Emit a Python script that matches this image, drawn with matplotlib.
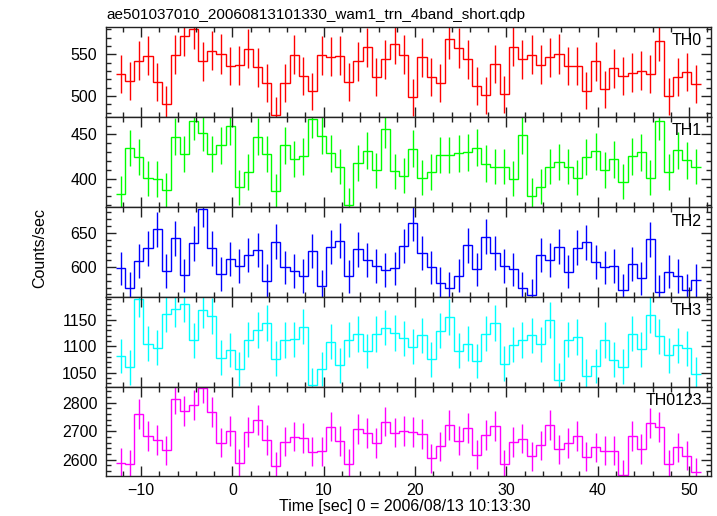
import numpy as np
import matplotlib
matplotlib.use("Agg")
import matplotlib.pyplot as plt
from matplotlib.ticker import MultipleLocator

plt.rcParams['font.family'] = ['Liberation Sans', 'DejaVu Sans']

# ---------------- data ----------------
time_start = -12.24   # centre of first 1-s bin
bin_width = 1.0

th0 = [526, 518.4, 542.4, 548, 516.4, 490, 549.6, 572, 580, 541.6, 554.4, 550.4, 536, 536.8,
       556.8, 534.4, 515.6, 476.8, 515.6, 549.6, 523.6, 505.6, 548.8, 547.2, 548, 516.8, 541.6,
       558.4, 522.4, 544, 562.4, 549.6, 498.4, 546.4, 523.2, 515.6, 568, 557.6, 544, 512, 500.8,
       538.4, 502, 559.2, 544, 549.6, 537.6, 546.4, 550.4, 536, 536, 506.4, 541.6, 508, 533.2,
       524, 528, 530.4, 526.4, 566, 499.6, 522.4, 528.8, 514.4]
th1 = [383, 434.5, 424.6, 400.4, 399.6, 386.7, 447.3, 427.6, 464.8, 451.9, 427.6, 437.9, 459.5,
       390.2, 407.2, 447.3, 427.6, 385.6, 437.9, 422.3, 425, 467, 448.5, 428.4, 413.6, 370,
       417.4, 431.4, 409.1, 456.4, 408, 403.4, 433.7, 401.1, 407.2, 426.5, 426.5, 428.4, 429.5,
       434.8, 417, 413.6, 413.6, 400, 448.9, 380.7, 390.5, 413.6, 419, 413.6, 401.1, 424.2,
       430.7, 409.9, 421.6, 396.6, 425, 429.5, 401.1, 465.5, 407.2, 431.8, 420.5, 413.6]
th2 = [598, 569, 608.7, 627.2, 654.9, 594.2, 641.7, 587.9, 634.5, 684.5, 627.2, 589.8, 611.2,
       601.5, 617.5, 624.3, 579.6, 636.9, 599.5, 594.2, 586.9, 623.8, 572.3, 629.1, 638.4,
       586.4, 625.7, 609.7, 601, 595.6, 598, 630.6, 663.6, 620.9, 599.5, 576.2, 569, 587.4,
       631.6, 596.6, 644.2, 620.9, 601.5, 596.6, 569, 559.2, 617, 609.7, 629.6, 593.2, 628.2,
       635.9, 607.3, 599.5, 601, 566.5, 604.4, 583.5, 640.3, 564.1, 593.2, 586.9, 566.5, 580.6]
th3 = [1081.6, 1060.1, 1189.3, 1105.1, 1097.5, 1161.4, 1170.9, 1181, 1111.4, 1169, 1158.2,
       1078.5, 1093, 1056.3, 1112.7, 1131, 1144.3, 1076.6, 1112, 1113.3, 1137.3, 1027.2,
       1057.6, 1108.9, 1063.9, 1112.7, 1123.4, 1091.1, 1123.4, 1135.4, 1125.3, 1115.2, 1098.7,
       1120.9, 1075.3, 1129.7, 1156.3, 1091.8, 1105.1, 1072.1, 1124, 1144.3, 1067.1, 1103.2,
       1112, 1120.9, 1103.8, 1150, 1035.4, 1112.7, 1117.7, 1043, 1062.7, 1112, 1074.7, 1061.4,
       1124, 1094.3, 1160.1, 1119, 1082.9, 1101.9, 1096.2, 1046.8]
th0123 = [2588.9, 2584.2, 2759.7, 2682.5, 2669.6, 2633.3, 2812.3, 2770.2, 2792.4, 2852.1, 2769,
          2660.2, 2701.2, 2587.7, 2696.5, 2738.6, 2668.4, 2577.2, 2663.7, 2681.3, 2675.4,
          2627.5, 2629.8, 2716.4, 2664.9, 2585.3, 2708.2, 2693, 2657.9, 2733.9, 2695.3, 2700,
          2696.5, 2690.6, 2605.2, 2647.4, 2722.2, 2667.2, 2710.5, 2616.9, 2686, 2717.6, 2584.2,
          2661.4, 2674.3, 2612.2, 2650.9, 2722.2, 2636.8, 2657.9, 2683.6, 2609.9, 2643.8, 2631,
          2631, 2547.9, 2682.5, 2638, 2728.1, 2715.2, 2584.2, 2643.8, 2613.4, 2556.1]

series = [th0, th1, th2, th3, th0123]
names = ["TH0", "TH1", "TH2", "TH3", "TH0123"]
colors = ["#ff0000", "#00ff00", "#0000ff", "#00ffff", "#ff00ff"]
ylims = [(474.8, 582.7), (367.4, 469.7), (556.7, 687.0), (1023.4, 1194.0), (2541.8, 2856.0)]
ymajor = [50, 50, 50, 50, 100]
yminor = [10, 10, 10, 10, 20]
xlim = (-13.8, 52.4)

title = "ae501037010_20060813101330_wam1_trn_4band_short.qdp"
xlabel = "Time [sec] 0 = 2006/08/13 10:13:30"
ylabel = "Counts/sec"

# ---------------- figure ----------------
W, H = 717, 516
fig = plt.figure(figsize=(W / 100, H / 100), dpi=100)
left_px, right_px = 106.3, 711.0
edges_px = [27.0, 117.0, 207.3, 296.7, 386.7, 476.3]

n = len(th0)
centers = time_start + bin_width * np.arange(n)
edges = np.concatenate([centers - bin_width / 2, [centers[-1] + bin_width / 2]])

axes = []
for k, (vals, name, col) in enumerate(zip(series, names, colors)):
    top, bot = edges_px[k], edges_px[k + 1]
    ax = fig.add_axes([left_px / W, 1 - bot / H, (right_px - left_px) / W, (bot - top) / H])
    vals = np.asarray(vals, dtype=float)
    err = np.sqrt(vals)
    ax.vlines(centers, vals - err, vals + err, colors=col, lw=1.0)
    ax.stairs(vals, edges, color=col, lw=1.0, baseline=None)
    ax.set_xlim(*xlim)
    ax.set_ylim(*ylims[k])
    ax.xaxis.set_major_locator(MultipleLocator(10))
    ax.xaxis.set_minor_locator(MultipleLocator(2))
    ax.yaxis.set_major_locator(MultipleLocator(ymajor[k]))
    ax.yaxis.set_minor_locator(MultipleLocator(yminor[k]))
    ax.tick_params(which='both', direction='in', top=True, right=True, colors='#222222',
                   labelcolor='black', labelsize=11.5)
    ax.tick_params(which='major', length=7, width=1)
    ax.tick_params(which='minor', length=3.5, width=1)
    ax.tick_params(axis='y', which='major', pad=6.5)
    ax.tick_params(axis='x', which='major', pad=4.5)
    for sp in ax.spines.values():
        sp.set_color('#222222')
        sp.set_linewidth(1.0)
    if k < 4:
        ax.tick_params(labelbottom=False)
    ax.text(0.985, 0.93, name, transform=ax.transAxes, ha='right', va='top', fontsize=11.5)
    axes.append(ax)

fig.text(left_px / W, 1 - 15 / H, title, ha='left', va='center', fontsize=11)
fig.text(405 / W, 1 - 507 / H, xlabel, ha='center', va='center', fontsize=11.5)
fig.text(40 / W, 1 - 248 / H, ylabel, ha='center', va='center', rotation=90, fontsize=11.5)

fig.savefig("out.png", dpi=100)
